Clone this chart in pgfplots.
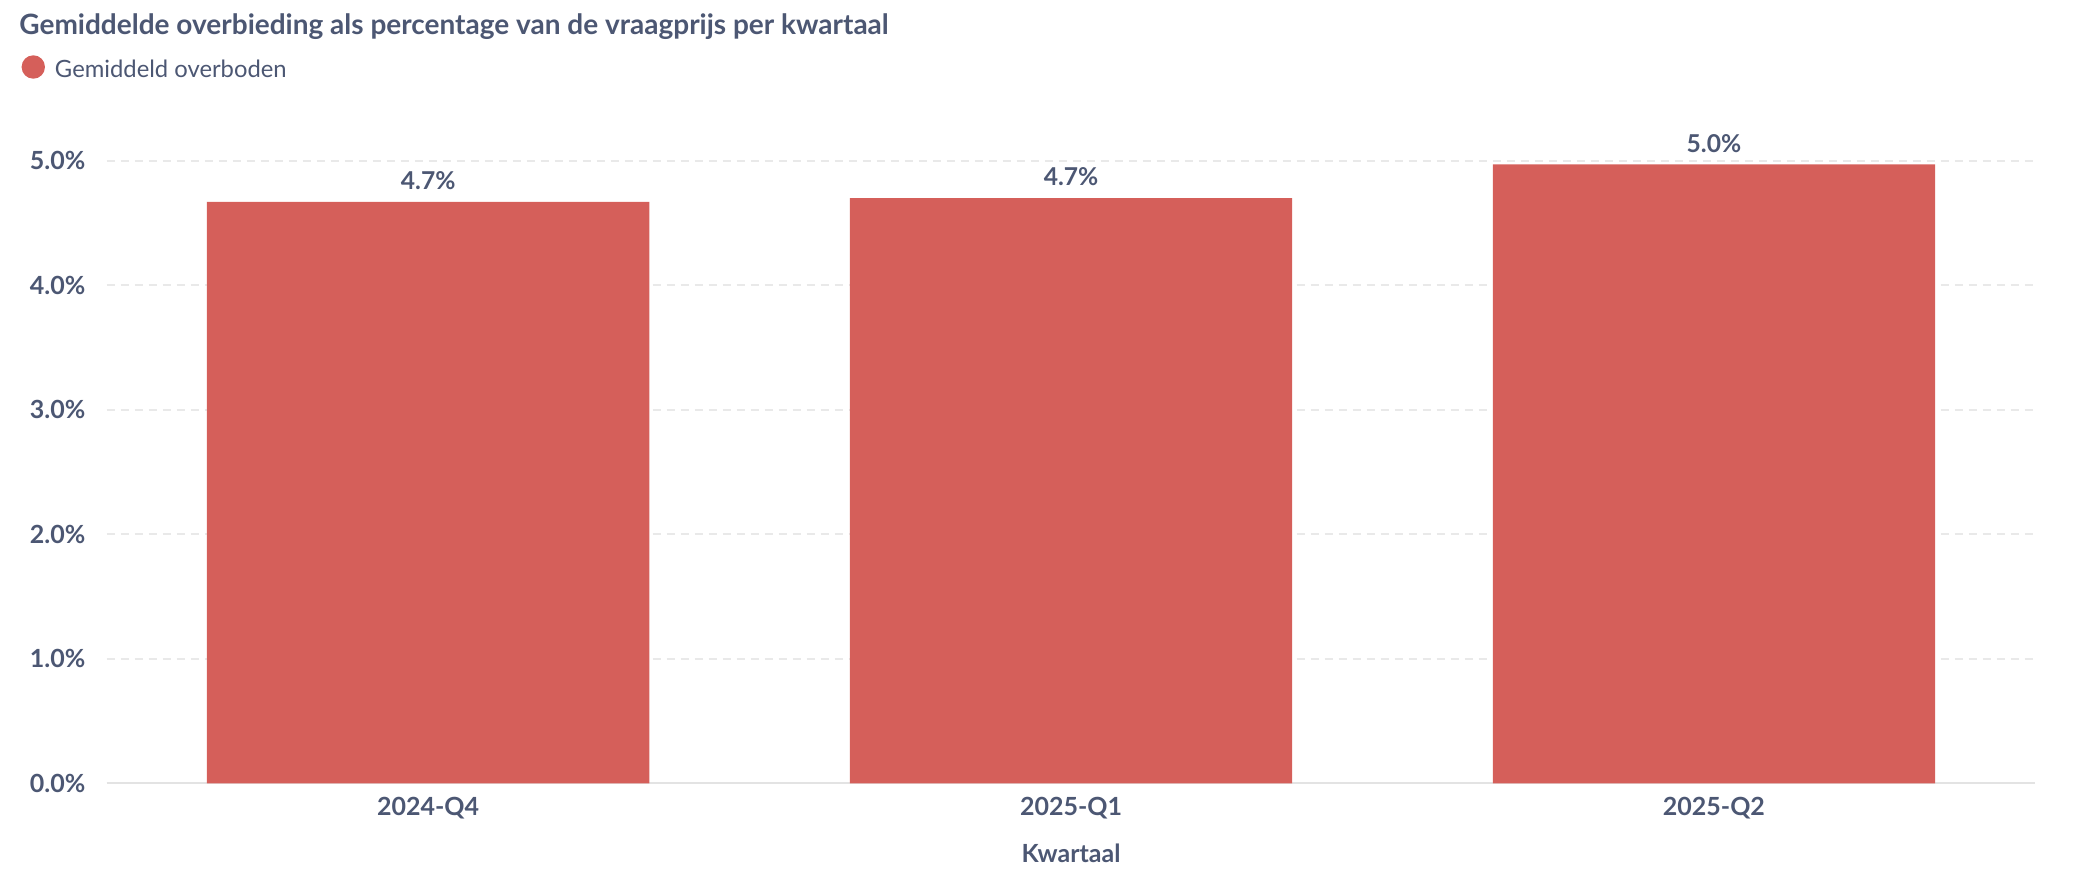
\documentclass[border=0pt]{standalone}
\usepackage{pgfplots}
\pgfplotsset{compat=1.18}
\usepackage{fontspec}
\setmainfont{Lato}
\definecolor{txt}{HTML}{4C5773}
\definecolor{barred}{HTML}{D55F5A}
\definecolor{gridc}{HTML}{E9E9E9}
\definecolor{basec}{HTML}{E3E3E3}
\begin{document}
\begin{tikzpicture}
\useasboundingbox (-53.35pt,-51.25pt) rectangle (983.65pt,391.75pt);
\begin{axis}[
  at={(0,0)}, anchor=south west,
  scale only axis,
  width=964.35pt, height=311.4pt,
  xmin=-0.5, xmax=2.5, ymin=0, ymax=5,
  enlargelimits=false,
  clip=false,
  axis x line*=bottom,
  axis y line*=left,
  x axis line style={basec, line width=1pt, -},
  y axis line style={draw=none},
  xtick={0,1,2},
  xticklabels={2024-Q4,2025-Q1,2025-Q2},
  ytick={0,1,2,3,4,5},
  major tick length=0pt,
  ymajorgrids,
  major grid style={gridc, line width=1pt, dash pattern=on 4pt off 3pt},
  /pgf/number format/assume math mode=true,
  yticklabel={\pgfmathprintnumber[fixed,fixed zerofill,precision=1]{\tick}\%},
  yticklabel style={anchor=east, inner sep=0pt, xshift=-10.5pt, font=\fontsize{12.5}{14}\selectfont\bfseries, text=txt},
  xticklabel style={anchor=base, inner sep=0pt, yshift=-16.1pt, font=\fontsize{12.5}{14}\selectfont\bfseries, text=txt},
  xlabel={Kwartaal},
  xlabel style={at={(axis description cs:0.5,0)}, anchor=base, inner sep=0pt, yshift=-39.75pt, font=\fontsize{12.5}{14}\selectfont\bfseries, text=txt},
  legend style={at={(rel axis cs:0,0)}, anchor=west, xshift=-42.55pt, yshift=357.8pt,
    draw=none, fill=none, inner sep=0pt, outer sep=0pt, column sep=5pt,
    nodes={inner sep=0pt, text=txt},
    font=\fontsize{11.9}{14}\selectfont},
  legend image code/.code={\fill[#1] (5.85pt,1.6pt) circle (5.85pt);},
  nodes near coords={\pgfmathprintnumber[fixed,fixed zerofill,precision=1]{\pgfplotspointmeta}\%},
  every node near coord/.append style={anchor=base, inner sep=0pt, yshift=6.15pt, font=\fontsize{12.3}{14}\selectfont\bfseries, text=txt},
]
\addplot[ybar, bar width=0.688, fill=barred, draw=none] coordinates {(0,4.67) (1,4.70) (2,4.97)};
\addlegendentry{Gemiddeld overboden}
\end{axis}
\node[anchor=base west, inner sep=0pt, text=txt, font=\fontsize{14.0}{16}\selectfont\bfseries] at (-43.85pt,374.6pt) {Gemiddelde overbieding als percentage van de vraagprijs per kwartaal};
\end{tikzpicture}
\end{document}
